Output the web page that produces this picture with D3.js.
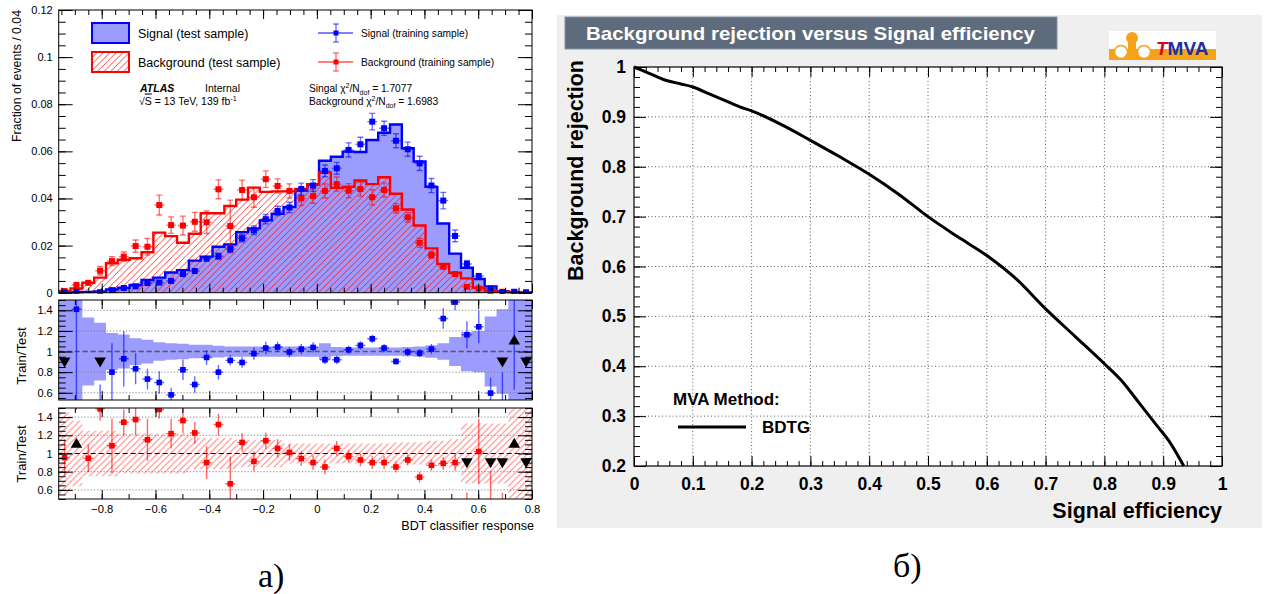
<!DOCTYPE html>
<html>
<head>
<meta charset="utf-8">
<script src="https://cdn.jsdelivr.net/npm/d3@7"></script>
<style>
  body { margin: 0; background: #fff; }
  svg { display: block; }
  text { font-family: "Liberation Sans", Arial, Helvetica, sans-serif; }
  text.caption { font-family: "Liberation Serif", "DejaVu Serif", serif; }
</style>
</head>
<body>
<svg id="fig" width="1267" height="594"></svg>
<script>
// ---------------- BDT response distributions (40 bins, -0.96 .. 0.8) ----------------
const binLo = -0.96, binHi = 0.8, nBins = 40;

const sigTest = [0.0001,0.0002,0.0003,0.0005,0.0014,0.0021,0.0033,0.0054,0.0064,0.0086,
                 0.0096,0.0136,0.0153,0.0195,0.0205,0.0257,0.0273,0.0307,0.0335,0.0364,
                 0.0434,0.0460,0.0560,0.0577,0.0599,0.0597,0.0648,0.0679,0.0714,0.0613,
                 0.0557,0.0449,0.0294,0.0166,0.0106,0.0058,0.0027,0.0006,0.0002,0.0001];
const bkgTest = [0.0007,0.0018,0.0042,0.0064,0.0125,0.0140,0.0146,0.0172,0.0255,0.0240,
                 0.0212,0.0250,0.0337,0.0337,0.0368,0.0395,0.0446,0.0428,0.0430,0.0430,
                 0.0440,0.0461,0.0510,0.0445,0.0450,0.0476,0.0461,0.0490,0.0420,0.0353,
                 0.0285,0.0188,0.0122,0.0085,0.0061,0.0021,0.0008,0.0004,0.0003,0.0002];
const sigTrain = [0.00003,0.0003,null,0.0002,0.0011,0.0020,0.0027,0.0041,0.0043,0.0050,
                  0.0079,0.0092,0.0144,0.0155,0.0185,0.0231,0.0265,0.0312,0.0347,0.0362,
                  0.0440,0.0455,0.0517,0.0528,0.0606,0.0630,0.0726,0.0698,0.0645,0.0609,
                  0.0549,0.0455,0.0391,0.0241,0.0122,0.0071,0.0018,0.0002,0.0004,0.00003];
const sigTrainErr = [0.0001,0.0002,0,0.0002,0.0004,0.0005,0.0006,0.0008,0.0008,0.0009,
                     0.0010,0.0010,0.0012,0.0013,0.0015,0.0016,0.0018,0.0020,0.0020,0.0022,
                     0.0025,0.0025,0.0025,0.0025,0.0030,0.0030,0.0035,0.0030,0.0030,0.0030,
                     0.0030,0.0030,0.0035,0.0025,0.0015,0.0010,0.0006,0.0003,0.0003,0.0001];
const bkgTrain = [0.0007,0.0033,0.0042,0.0093,0.0134,0.0153,0.0198,0.0195,0.0372,0.0287,
                  0.0285,0.0301,0.0299,0.0439,0.0283,0.0436,0.0405,0.0482,0.0453,0.0432,
                  0.0400,0.0410,0.0432,0.0461,0.0433,0.0440,0.0405,0.0436,0.0358,0.0320,
                  0.0212,0.0160,0.0110,0.0079,0.0025,0.0018,0.0004,0.0004,0.0003,0.0002];
const bkgTrainErr = [0.0005,0.0012,0.0012,0.0018,0.0019,0.0020,0.0026,0.0035,0.0042,0.0035,
                     0.0040,0.0040,0.0048,0.0040,0.0110,0.0042,0.0042,0.0035,0.0030,0.0030,
                     0.0030,0.0030,0.0030,0.0030,0.0030,0.0030,0.0032,0.0030,0.0020,0.0020,
                     0.0019,0.0015,0.0012,0.0010,0.0008,0.0008,0.0004,0.0003,0.0003,0.0002];

// train / test ratios, their errors and the relative stat. uncertainty of the test sample
const sigRatio = [0.0,1.41,null,0.30,0.80,0.93,0.833,0.733,0.70,0.58,
                  0.823,0.68,0.943,0.80,0.914,0.894,0.98,1.034,1.044,0.995,
                  1.024,1.04,0.92,0.92,1.017,1.06,1.124,1.034,0.904,0.995,
                  0.985,1.024,1.32,1.48,1.163,1.24,0.597,0.30,2.0,0.10];
const sigRatioErr = [0,1.0,0,0.38,0.28,0.27,0.15,0.10,0.11,0.07,
                     0.10,0.08,0.07,0.07,0.05,0.05,0.06,0.06,0.05,0.05,
                     0.05,0.05,0.04,0.04,0.04,0.04,0.04,0.04,0.03,0.04,
                     0.04,0.05,0.10,0.08,0.13,0.16,0.15,0.50,1.37,0.45];
const sigBand = [1,1,0.33,0.28,0.18,0.165,0.13,0.115,0.09,0.08,
                 0.075,0.065,0.065,0.057,0.05,0.05,0.05,0.05,0.05,0.05,
                 0.05,0.05,0.08,0.045,0.04,0.04,0.04,0.04,0.04,0.045,
                 0.05,0.06,0.08,0.14,0.19,0.20,0.34,0.41,1,1];
const bkgRatio = [0.955,1.8,0.948,1.49,1.085,1.344,1.373,1.151,1.484,1.218,
                  1.362,1.226,0.90,1.318,0.667,1.122,0.914,1.14,1.056,1.011,
                  0.944,0.90,0.852,1.056,0.967,0.929,0.90,0.90,0.852,0.929,
                  0.74,0.87,0.892,0.90,0.41,1.022,0.30,0.20,1.8,0.20];
const bkgRatioErr = [0.20,0.32,0.15,0.13,0.30,0.14,0.17,0.23,0.10,0.16,
                     0.14,0.12,0.18,0.12,0.30,0.10,0.11,0.09,0.10,0.09,
                     0.08,0.08,0.08,0.08,0.07,0.07,0.07,0.07,0.06,0.06,
                     0.06,0.06,0.07,0.09,0.16,0.36,0.51,0.37,0.20,0.10];
const bkgBand = [0.45,0.36,0.25,0.25,0.25,0.22,0.22,0.22,0.22,0.22,
                 0.22,0.17,0.17,0.17,0.17,0.15,0.15,0.15,0.15,0.11,
                 0.11,0.11,0.11,0.11,0.11,0.11,0.11,0.11,0.12,0.12,
                 0.12,0.14,0.14,0.16,0.33,0.33,0.33,0.33,1,1];

const mainYTicks = [0, 0.02, 0.04, 0.06, 0.08, 0.1, 0.12];
const ratioYTicks = [0.6, 0.8, 1, 1.2, 1.4];
const bdtTicks = [-0.8, -0.6, -0.4, -0.2, 0, 0.2, 0.4, 0.6, 0.8];

// ---------------- ROC curve (BDTG) ----------------
const rocEff = [0, 0.01, 0.03, 0.05, 0.08, 0.10, 0.13, 0.15, 0.18, 0.20, 0.25, 0.30, 0.35, 0.40,
                0.45, 0.50, 0.55, 0.60, 0.65, 0.70, 0.75, 0.80, 0.83, 0.86, 0.89, 0.91, 0.935];
const rocRej = [1.0, 0.995, 0.985, 0.975, 0.966, 0.960, 0.945, 0.935, 0.920, 0.912, 0.885, 0.853, 0.820, 0.785,
                0.745, 0.700, 0.660, 0.622, 0.575, 0.515, 0.460, 0.405, 0.370, 0.325, 0.280, 0.250, 0.200];
const rocXTicks = [0, 0.1, 0.2, 0.3, 0.4, 0.5, 0.6, 0.7, 0.8, 0.9, 1];
const rocYTicks = [0.2, 0.3, 0.4, 0.5, 0.6, 0.7, 0.8, 0.9, 1];

// ---------------------------------------------------------------------------------
const svg = d3.select('#fig');
const defs = svg.append('defs');
const fmt = d3.format('~g');

function hatch(id, color, w, sw, op) {
  const p = defs.append('pattern').attr('id', id)
    .attr('patternUnits', 'userSpaceOnUse').attr('width', w).attr('height', w);
  p.append('path')
    .attr('d', `M0,${w} L${w},0 M${-w/2},${w/2} L${w/2},${-w/2} M${w/2},${w*1.5} L${w*1.5},${w/2}`)
    .attr('stroke', color).attr('stroke-width', sw).attr('stroke-opacity', op).attr('fill', 'none');
}
hatch('hatchMain', '#ff0000', 6.5, 0.9, 0.85);
hatch('hatchRatio', '#ff3030', 6.5, 1.1, 0.6);

const SIG_FILL = '#9c9cff';
const BLUE = '#0000ff', RED = '#ff0000';

// ---------------- left figure geometry ----------------
const L = { left: 58.7, right: 532 };
const xL = d3.scaleLinear().domain([binLo, binHi]).range([L.left, L.right]);
const yM = d3.scaleLinear().domain([0, 0.12]).range([292.7, 10]);
const yR1 = d3.scaleLinear().domain([0.53, 1.5]).range([400, 300]);
const yR2 = d3.scaleLinear().domain([0.5, 1.5]).range([499, 408]);

const binW = (binHi - binLo) / nBins;
const bins = d3.range(nBins).map(i => ({ i, lo: binLo + i * binW, hi: binLo + (i + 1) * binW, c: binLo + (i + 0.5) * binW }));

function clip(id, x0, y0, x1, y1) {
  defs.append('clipPath').attr('id', id).append('rect')
    .attr('x', x0).attr('y', y0).attr('width', x1 - x0).attr('height', y1 - y0);
}
clip('cMain', L.left, yM.range()[1], L.right, yM.range()[0] + 1);
clip('cR1', L.left, 300, L.right, 400);
clip('cR2', L.left, 408, L.right, 499);

// step outline of a histogram
function stepPts(vals) {
  const pts = [[bins[0].lo, 0]];
  bins.forEach((b, i) => { pts.push([b.lo, vals[i]]); pts.push([b.hi, vals[i]]); });
  pts.push([bins[nBins - 1].hi, 0]);
  return pts;
}
const stepLine = d3.line().x(d => xL(d[0])).y(d => yM(d[1]));

const gMain = svg.append('g').attr('clip-path', 'url(#cMain)');
gMain.append('path').attr('d', stepLine(stepPts(sigTest))).attr('fill', SIG_FILL).attr('stroke', 'none');
gMain.append('path').attr('d', stepLine(stepPts(bkgTest))).attr('fill', 'url(#hatchMain)').attr('stroke', 'none');
gMain.append('path').attr('d', stepLine(stepPts(sigTest))).attr('fill', 'none').attr('stroke', BLUE).attr('stroke-width', 2.4);
gMain.append('path').attr('d', stepLine(stepPts(bkgTest))).attr('fill', 'none').attr('stroke', RED).attr('stroke-width', 2.4);

// training-sample points with error bars
function trainPoints(g, vals, errs, color) {
  const pts = bins.map(b => ({ b, v: vals[b.i], e: errs[b.i] })).filter(d => d.v != null);
  const gg = g.append('g');
  gg.selectAll('line.h').data(pts).join('line')
    .attr('x1', d => xL(d.b.lo) + 1).attr('x2', d => xL(d.b.hi) - 1)
    .attr('y1', d => yM(d.v)).attr('y2', d => yM(d.v))
    .attr('stroke', color).attr('stroke-opacity', 0.55).attr('stroke-width', 1.4);
  gg.selectAll('line.v').data(pts.filter(d => d.e > 0)).join('line')
    .attr('x1', d => xL(d.b.c)).attr('x2', d => xL(d.b.c))
    .attr('y1', d => yM(d.v - d.e)).attr('y2', d => yM(d.v + d.e))
    .attr('stroke', color).attr('stroke-opacity', 0.55).attr('stroke-width', 1.4);
  [-1, 1].forEach(s => {
    gg.selectAll('line.cap' + s).data(pts.filter(d => yM(d.v - d.e) - yM(d.v + d.e) > 6)).join('line')
      .attr('x1', d => xL(d.b.c) - 3).attr('x2', d => xL(d.b.c) + 3)
      .attr('y1', d => yM(d.v + s * d.e)).attr('y2', d => yM(d.v + s * d.e))
      .attr('stroke', color).attr('stroke-opacity', 0.55).attr('stroke-width', 1.4);
  });
  gg.selectAll('rect').data(pts).join('rect')
    .attr('x', d => xL(d.b.c) - 3).attr('y', d => yM(d.v) - 3)
    .attr('width', 6).attr('height', 6).attr('fill', color);
}
trainPoints(gMain, bkgTrain, bkgTrainErr, RED);
trainPoints(gMain, sigTrain, sigTrainErr, BLUE);

// frame + ticks of a panel
function frame(y, top, bottom, yMajor, yMinor, xMinorStep, yMajLen) {
  svg.append('rect').attr('x', L.left).attr('y', top).attr('width', L.right - L.left).attr('height', bottom - top)
    .attr('fill', 'none').attr('stroke', '#000').attr('stroke-width', 1);
  svg.append('g').attr('transform', `translate(${L.left},0)`)
    .call(d3.axisLeft(y).tickValues(yMajor).tickSize(-yMajLen).tickPadding(6).tickFormat(fmt));
  svg.append('g').attr('transform', `translate(${L.left},0)`)
    .call(d3.axisLeft(y).tickValues(yMinor).tickSize(-yMajLen / 2).tickFormat(''));
  svg.append('g').attr('transform', `translate(${L.right},0)`)
    .call(d3.axisRight(y).tickValues(yMajor).tickSize(-yMajLen).tickFormat(''));
  svg.append('g').attr('transform', `translate(${L.right},0)`)
    .call(d3.axisRight(y).tickValues(yMinor).tickSize(-yMajLen / 2).tickFormat(''));
  const xMinor = d3.range(Math.ceil(binLo / xMinorStep - 1e-9), Math.floor(binHi / xMinorStep + 1e-9) + 1).map(k => +(k * xMinorStep).toFixed(3));
  [[top, d3.axisTop], [bottom, d3.axisBottom]].forEach(([yy, ax]) => {
    svg.append('g').attr('transform', `translate(0,${yy})`).call(ax(xL).tickValues(bdtTicks).tickSize(-9).tickFormat(''));
    svg.append('g').attr('transform', `translate(0,${yy})`).call(ax(xL).tickValues(xMinor).tickSize(-5).tickFormat(''));
  });
}
const minorMain = d3.range(0, 24).map(k => +(k * 0.005).toFixed(3)).filter(v => v <= 0.12);
frame(yM, 10, 292.7, mainYTicks, minorMain, 0.05, 14);

// ratio panels
function ratioPanel(y, top, bottom, clipId, ratio, err, band, bandFill, ptColor, oneLine) {
  const g = svg.append('g').attr('clip-path', `url(#${clipId})`);
  const bandArea = d3.area().x(d => xL(d[0])).y0(d => y(1 - d[1])).y1(d => y(1 + d[1]));
  const bpts = [];
  bins.forEach(b => { bpts.push([b.lo, band[b.i]]); bpts.push([b.hi, band[b.i]]); });
  g.append('path').attr('d', bandArea(bpts)).attr('fill', bandFill).attr('stroke', 'none');
  [0.6, 0.8, 1.2, 1.4].forEach(v => {
    g.append('line').attr('x1', L.left).attr('x2', L.right).attr('y1', y(v)).attr('y2', y(v))
      .attr('stroke', '#777').attr('stroke-width', 0.9).attr('stroke-dasharray', '1.2,2');
  });
  g.append('line').attr('x1', L.left).attr('x2', L.right).attr('y1', y(1)).attr('y2', y(1))
    .attr('stroke', oneLine.color).attr('stroke-width', oneLine.w).attr('stroke-dasharray', oneLine.dash);
  const dom = y.domain();
  const pts = bins.map(b => ({ b, v: ratio[b.i], e: err[b.i] })).filter(d => d.v != null);
  g.selectAll('line.v').data(pts.filter(d => d.e > 0)).join('line')
    .attr('x1', d => xL(d.b.c)).attr('x2', d => xL(d.b.c))
    .attr('y1', d => y(d.v - d.e)).attr('y2', d => y(d.v + d.e))
    .attr('stroke', ptColor).attr('stroke-opacity', 0.6).attr('stroke-width', 1.4);
  const inside = pts.filter(d => d.v >= dom[0] && d.v <= dom[1]);
  g.selectAll('line.h').data(inside).join('line')
    .attr('x1', d => xL(d.b.lo) + 1).attr('x2', d => xL(d.b.hi) - 1)
    .attr('y1', d => y(d.v)).attr('y2', d => y(d.v))
    .attr('stroke', ptColor).attr('stroke-opacity', 0.6).attr('stroke-width', 1.4);
  g.selectAll('rect.p').data(inside).join('rect')
    .attr('x', d => xL(d.b.c) - 2.8).attr('y', d => y(d.v) - 2.8)
    .attr('width', 5.6).attr('height', 5.6).attr('fill', ptColor);
  // out-of-range markers
  const tri = d3.symbol().type(d3.symbolTriangle).size(58);
  const outs = pts.filter(d => d.v < dom[0] || d.v > dom[1]);
  svg.append('g').selectAll('path').data(outs).join('path')
    .attr('d', tri)
    .attr('transform', d => d.v > dom[1]
      ? `translate(${xL(d.b.c)},${y(1.1)})`
      : `translate(${xL(d.b.c)},${y(0.91)}) rotate(180)`)
    .attr('fill', '#000');
  const minor = d3.range(0, 40).map(k => +(0.5 + k * 0.05).toFixed(2)).filter(v => v >= dom[0] - 1e-9 && v <= dom[1] + 1e-9);
  frame(y, top, bottom, ratioYTicks, minor, 0.1, 14);
}
ratioPanel(yR1, 300, 400, 'cR1', sigRatio, sigRatioErr, sigBand, SIG_FILL, BLUE,
  { color: '#555', w: 1.6, dash: '5,3' });
ratioPanel(yR2, 408, 499, 'cR2', bkgRatio, bkgRatioErr, bkgBand, 'url(#hatchRatio)', RED,
  { color: '#111', w: 1.1, dash: '5,3' });

// x labels on the bottom panel
svg.append('g').attr('class', 'xlab').attr('transform', 'translate(0,499)')
  .call(d3.axisBottom(xL).tickValues(bdtTicks).tickSize(0).tickPadding(6).tickFormat(fmt));

// style all left axes
svg.selectAll('.domain').remove();
svg.selectAll('.tick line').attr('stroke', '#000').attr('stroke-width', 1);
svg.selectAll('.tick text').attr('font-size', 11).attr('fill', '#000');
svg.selectAll('.xlab .tick text').attr('font-size', 11.3);

// axis titles
svg.append('text').attr('transform', 'translate(21,10) rotate(-90)').attr('text-anchor', 'end')
  .attr('font-size', 12.3).text('Fraction of events / 0.04');
svg.append('text').attr('transform', 'translate(26,356) rotate(-90)').attr('text-anchor', 'middle')
  .attr('font-size', 13.2).text('Train/Test');
svg.append('text').attr('transform', 'translate(26,454) rotate(-90)').attr('text-anchor', 'middle')
  .attr('font-size', 13.2).text('Train/Test');
svg.append('text').attr('x', 534).attr('y', 530).attr('text-anchor', 'end')
  .attr('font-size', 12.6).text('BDT classifier response');

// legend
svg.append('rect').attr('x', 92).attr('y', 23).attr('width', 37).attr('height', 20)
  .attr('fill', SIG_FILL).attr('stroke', BLUE).attr('stroke-width', 2);
svg.append('rect').attr('x', 92).attr('y', 52).attr('width', 37).attr('height', 20)
  .attr('fill', 'url(#hatchMain)').attr('stroke', RED).attr('stroke-width', 2);
svg.append('text').attr('x', 138).attr('y', 38).attr('font-size', 12.5).text('Signal (test sample)');
svg.append('text').attr('x', 138).attr('y', 67).attr('font-size', 12.5).text('Background (test sample)');

function legendPoint(cx, cy, color) {
  svg.append('line').attr('x1', cx - 18).attr('x2', cx + 17).attr('y1', cy).attr('y2', cy)
    .attr('stroke', color).attr('stroke-width', 1.2);
  svg.append('line').attr('x1', cx).attr('x2', cx).attr('y1', cy - 9).attr('y2', cy + 9)
    .attr('stroke', color).attr('stroke-opacity', 0.6).attr('stroke-width', 1.3);
  [-9, 9].forEach(d => svg.append('line').attr('x1', cx - 3).attr('x2', cx + 3).attr('y1', cy + d).attr('y2', cy + d)
    .attr('stroke', color).attr('stroke-opacity', 0.6).attr('stroke-width', 1.3));
  svg.append('rect').attr('x', cx - 2.5).attr('y', cy - 2.5).attr('width', 5).attr('height', 5).attr('fill', color);
}
legendPoint(336, 33, BLUE);
legendPoint(336, 62, RED);
svg.append('text').attr('x', 361).attr('y', 36.5).attr('font-size', 10.2).text('Signal (training sample)');
svg.append('text').attr('x', 361).attr('y', 65.5).attr('font-size', 10.2).text('Background (training sample)');

svg.append('text').attr('x', 140).attr('y', 92).attr('font-size', 10.5).attr('font-weight', 'bold')
  .attr('font-style', 'italic').text('ATLAS');
svg.append('text').attr('x', 205).attr('y', 92).attr('font-size', 10.5).text('Internal');
const lumi = svg.append('text').attr('x', 139).attr('y', 104.5).attr('font-size', 10.5);
lumi.append('tspan').text('√');
lumi.append('tspan').attr('text-decoration', 'overline').text('S');
lumi.append('tspan').text(' = 13 TeV, 139 fb');
lumi.append('tspan').attr('dy', -4).attr('font-size', 7).text('-1');

function chi2(y, label, val) {
  const t = svg.append('text').attr('x', 309).attr('y', y).attr('font-size', 10.2);
  t.append('tspan').text(label + ' χ');
  t.append('tspan').attr('dy', -4).attr('font-size', 7).text('2');
  t.append('tspan').attr('dy', 4).text('/N');
  t.append('tspan').attr('dy', 2.5).attr('font-size', 7).text('dof');
  t.append('tspan').attr('dy', -2.5).text(' = ' + val);
}
chi2(92, 'Singal', '1.7077');
chi2(105, 'Background', '1.6983');

// ---------------- right figure: ROC curve ----------------
const R = { left: 634, right: 1222, top: 67, bottom: 466 };
const xR = d3.scaleLinear().domain([0, 1]).range([R.left, R.right]);
const yRo = d3.scaleLinear().domain([0.2, 1]).range([R.bottom, R.top]);

svg.append('rect').attr('x', 557).attr('y', 15).attr('width', 705).attr('height', 513).attr('fill', '#efefef');
svg.append('rect').attr('x', 565).attr('y', 17).attr('width', 492).attr('height', 32)
  .attr('fill', '#5e6b7d').attr('stroke', '#8892a0').attr('stroke-width', 1);
svg.append('text').attr('x', 586).attr('y', 39.5).attr('font-size', 19)
  .attr('textLength', 449).attr('lengthAdjust', 'spacingAndGlyphs')
  .attr('font-weight', 'bold').attr('fill', '#fff').text('Background rejection versus Signal efficiency');

// TMVA logo
const logo = svg.append('g');
logo.append('rect').attr('x', 1109).attr('y', 31).attr('width', 107).attr('height', 29).attr('fill', '#fff');
logo.append('rect').attr('x', 1109).attr('y', 49).attr('width', 107).attr('height', 11).attr('fill', '#f7a21b');
logo.append('rect').attr('x', 1128).attr('y', 40).attr('width', 8).attr('height', 10).attr('fill', '#f7a21b');
logo.append('circle').attr('cx', 1132).attr('cy', 38).attr('r', 6).attr('fill', '#f7a21b');
logo.append('circle').attr('cx', 1121).attr('cy', 52).attr('r', 6.5).attr('fill', '#fff').attr('stroke', '#f7a21b').attr('stroke-width', 1.5);
logo.append('circle').attr('cx', 1144).attr('cy', 52).attr('r', 6.5).attr('fill', '#fff').attr('stroke', '#f7a21b').attr('stroke-width', 1.5);
const tm = logo.append('text').attr('x', 1156).attr('y', 55).attr('font-size', 19).attr('font-weight', 'bold');
tm.append('tspan').attr('fill', '#e0001b').attr('font-style', 'italic').text('T');
tm.append('tspan').attr('fill', '#1c2f9c').text('MVA');

// plot area
svg.append('rect').attr('x', R.left).attr('y', R.top).attr('width', R.right - R.left).attr('height', R.bottom - R.top)
  .attr('fill', '#fff');
const grid = svg.append('g');
rocXTicks.filter(v => v > 0 && v < 1).forEach(v => grid.append('line')
  .attr('x1', xR(v)).attr('x2', xR(v)).attr('y1', R.top).attr('y2', R.bottom));
rocYTicks.filter(v => v > 0.2 && v < 1).forEach(v => grid.append('line')
  .attr('x1', R.left).attr('x2', R.right).attr('y1', yRo(v)).attr('y2', yRo(v)));
grid.selectAll('line').attr('stroke', '#333').attr('stroke-width', 0.8).attr('stroke-dasharray', '1,2.5');

const rocG = svg.append('g').attr('class', 'roc');
const xMinR = d3.range(0, 51).map(k => +(k * 0.02).toFixed(2));
const yMinR = d3.range(10, 51).map(k => +(k * 0.02).toFixed(2));
rocG.append('g').attr('transform', `translate(0,${R.bottom})`)
  .call(d3.axisBottom(xR).tickValues(rocXTicks).tickSize(-10).tickPadding(12).tickFormat(fmt));
rocG.append('g').attr('transform', `translate(0,${R.bottom})`)
  .call(d3.axisBottom(xR).tickValues(xMinR).tickSize(-5).tickFormat(''));
rocG.append('g').attr('transform', `translate(0,${R.top})`)
  .call(d3.axisTop(xR).tickValues(rocXTicks).tickSize(-10).tickFormat(''));
rocG.append('g').attr('transform', `translate(0,${R.top})`)
  .call(d3.axisTop(xR).tickValues(xMinR).tickSize(-5).tickFormat(''));
rocG.append('g').attr('transform', `translate(${R.left},0)`)
  .call(d3.axisLeft(yRo).tickValues(rocYTicks).tickSize(-12).tickPadding(8).tickFormat(fmt));
rocG.append('g').attr('transform', `translate(${R.left},0)`)
  .call(d3.axisLeft(yRo).tickValues(yMinR).tickSize(-6).tickFormat(''));
rocG.append('g').attr('transform', `translate(${R.right},0)`)
  .call(d3.axisRight(yRo).tickValues(rocYTicks).tickSize(-12).tickFormat(''));
rocG.append('g').attr('transform', `translate(${R.right},0)`)
  .call(d3.axisRight(yRo).tickValues(yMinR).tickSize(-6).tickFormat(''));
rocG.selectAll('.domain').remove();
rocG.selectAll('.tick line').attr('stroke', '#000').attr('stroke-width', 1);
rocG.selectAll('.tick text').attr('font-size', 17.5).attr('font-weight', 'bold').attr('fill', '#000');

svg.append('rect').attr('x', R.left).attr('y', R.top).attr('width', R.right - R.left).attr('height', R.bottom - R.top)
  .attr('fill', 'none').attr('stroke', '#000').attr('stroke-width', 1.2);

const roc = rocEff.map((e, i) => [e, rocRej[i]]);
svg.append('path').attr('d', d3.line().x(d => xR(d[0])).y(d => yRo(d[1])).curve(d3.curveMonotoneX)(roc))
  .attr('fill', 'none').attr('stroke', '#000').attr('stroke-width', 3).attr('stroke-linejoin', 'round');

svg.append('text').attr('transform', 'translate(583,60) rotate(-90)').attr('text-anchor', 'end')
  .attr('font-size', 21.5).attr('font-weight', 'bold').text('Background rejection');
svg.append('text').attr('x', 1222).attr('y', 518).attr('text-anchor', 'end')
  .attr('font-size', 21.5).attr('font-weight', 'bold').text('Signal efficiency');

svg.append('text').attr('x', 673).attr('y', 405).attr('font-size', 17).attr('font-weight', 'bold').text('MVA Method:');
svg.append('line').attr('x1', 678).attr('x2', 746).attr('y1', 427).attr('y2', 427).attr('stroke', '#000').attr('stroke-width', 3);
svg.append('text').attr('x', 762).attr('y', 433).attr('font-size', 17).attr('font-weight', 'bold').text('BDTG');

// panel captions
svg.append('text').attr('class', 'caption').attr('x', 258).attr('y', 587).attr('font-size', 34).text('а)');
svg.append('text').attr('class', 'caption').attr('x', 893).attr('y', 577).attr('font-size', 34).text('б)');
</script>
</body>
</html>
